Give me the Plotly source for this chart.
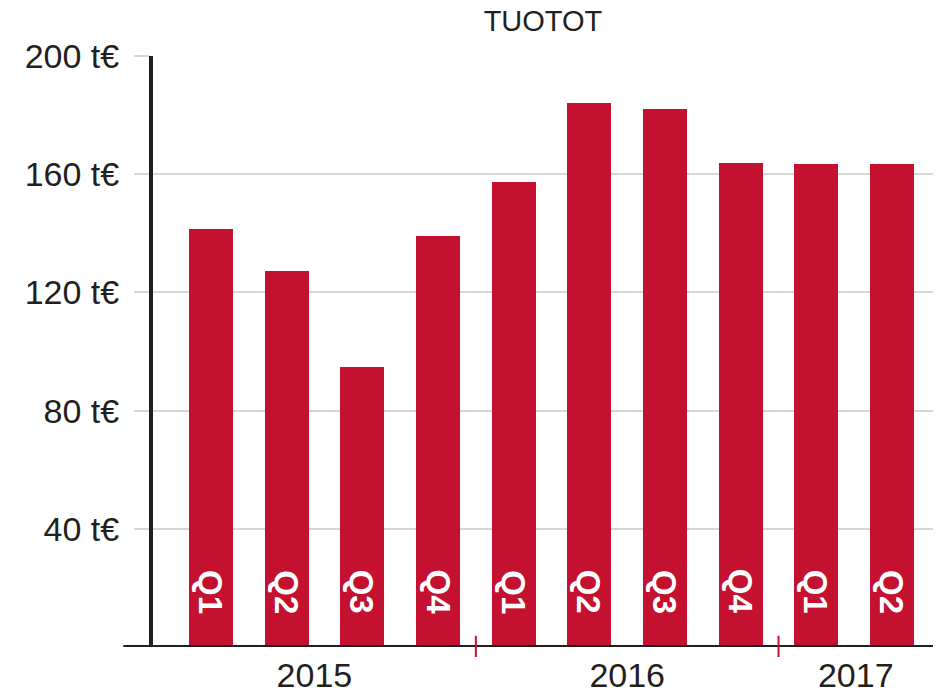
import plotly.graph_objects as go

# ---- data ----
years = ["2015", "2015", "2015", "2015", "2016", "2016", "2016", "2016", "2017", "2017"]
quarters = ["Q1", "Q2", "Q3", "Q4", "Q1", "Q2", "Q3", "Q4", "Q1", "Q2"]
revenue = [141.5, 127.2, 94.8, 139.1, 157.3, 184.1, 182.1, 163.8, 163.5, 163.5]
y_ticks = [40, 80, 120, 160, 200]
y_tick_labels = [f"{v} t€" for v in y_ticks]
title_text = "TUOTOT"

# ---- styling ----
BAR = "#c3112f"
INK = "#231f20"
GRID = "#d6d6d6"
FONT = "Liberation Sans, Arial, sans-serif"

# the page body has an 8px margin, so the figure is drawn 8px in from the corner
W, H = 933, 688
ML, MR, MT, MB = 145, 8, 48, 49
BAR_PITCH = 75.67          # px between bar centres
FIRST_BAR_PX = 203         # px of first bar centre (figure coords)

x = list(range(len(revenue)))
plot_w = W - ML - MR
x0 = (ML - FIRST_BAR_PX) / BAR_PITCH
x1 = x0 + plot_w / BAR_PITCH

# group boundaries derived from data
unique_years = []
for y_ in years:
    if y_ not in unique_years:
        unique_years.append(y_)
bounds = []
for i in range(1, len(years)):
    if years[i] != years[i - 1]:
        bounds.append((x[i - 1] + x[i]) / 2)
edges = [x0] + bounds + [x1]
label_pos = [(edges[i] + edges[i + 1]) / 2 for i in range(len(unique_years))]

fig = go.Figure()
fig.add_trace(go.Bar(
    x=x, y=revenue,
    width=0.58,
    marker=dict(color=BAR, line=dict(width=0)),
    hoverinfo="skip",
))

annotations = []
for xi, q in zip(x, quarters):
    annotations.append(dict(
        x=xi, y=0, xref="x", yref="y",
        text=f"<b>{q}</b>", showarrow=False,
        textangle=90, xanchor="center", yanchor="bottom", yshift=31,
        font=dict(color="white", size=33, family=FONT),
    ))

shapes = []
# bottom axis line (extends a bit left of the y axis)
shapes.append(dict(type="line", xref="paper", yref="y", x0=-0.038, x1=1.003,
                   y0=0, y1=0, line=dict(color=INK, width=4), layer="above"))
# red separators between years
for b in bounds:
    shapes.append(dict(type="line", xref="x", yref="paper", x0=b, x1=b,
                       y0=-0.017, y1=0.019, line=dict(color=BAR, width=2),
                       layer="above"))

fig.update_layout(
    template="none",
    width=W, height=H,
    autosize=False,
    margin=dict(l=ML, r=MR, t=MT, b=MB, pad=0, autoexpand=False),
    paper_bgcolor="white", plot_bgcolor="white",
    showlegend=False,
    bargap=0,
    font=dict(family=FONT, color=INK),
    title=dict(text=title_text, x=0.5, xref="paper", xanchor="center",
               y=1 - 13 / H, yref="container", yanchor="middle",
               font=dict(size=29, color=INK, family=FONT)),
    shapes=shapes,
    annotations=annotations,
)
fig.update_xaxes(
    range=[x0, x1], automargin=False,
    tickmode="array", tickvals=label_pos, ticktext=unique_years,
    ticks="", showgrid=False, zeroline=False, showline=False,
    tickfont=dict(size=34, color=INK, family=FONT),
    ticklabelstandoff=5,
    fixedrange=True,
)
fig.update_yaxes(
    range=[0, 200], automargin=False,
    tickmode="array", tickvals=y_ticks, ticktext=y_tick_labels,
    ticks="outside", ticklen=15, tickwidth=2, tickcolor=GRID,
    showgrid=True, gridcolor=GRID, gridwidth=2,
    zeroline=False,
    showline=True, linecolor=INK, linewidth=4,
    tickfont=dict(size=34, color=INK, family=FONT),
    ticklabelstandoff=8,
    fixedrange=True,
)

fig.write_html("out.html")
